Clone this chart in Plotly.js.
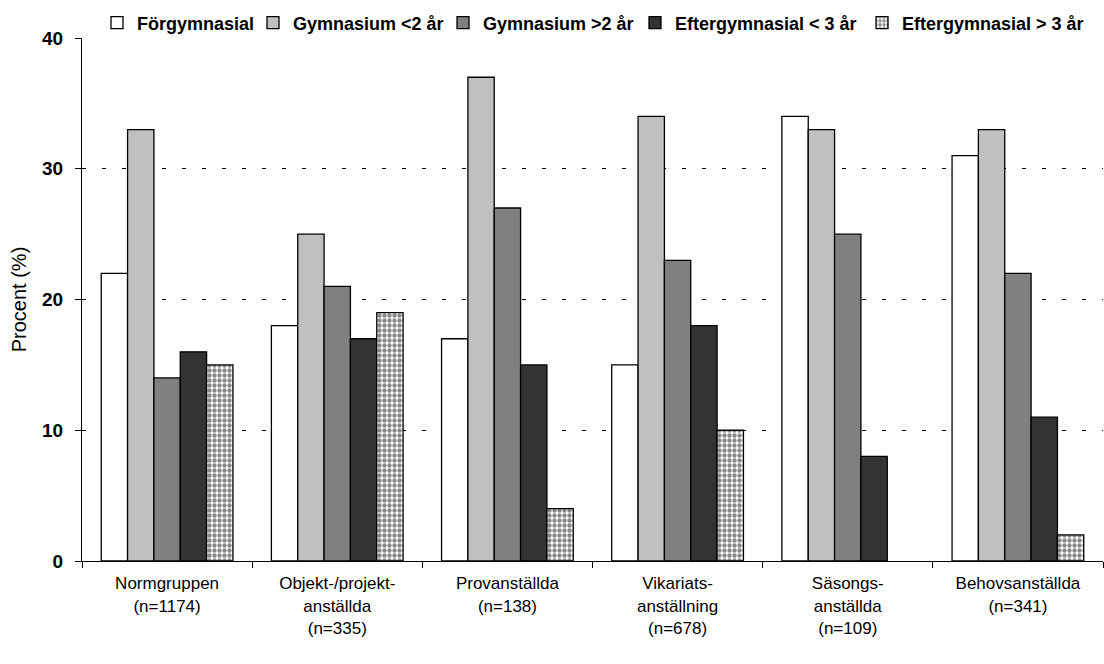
<!DOCTYPE html>
<html>
<head>
<meta charset="utf-8">
<script src="https://cdn.plot.ly/plotly-3.0.1.min.js"></script>
<style>html,body{margin:0;padding:0;background:#fff;}#chart{width:1104px;height:664px;}</style>
</head>
<body>
<div id="chart"></div>
<script>
const categories = [
  "Normgruppen<br>(n=1174)",
  "Objekt-/projekt-<br>anställda<br>(n=335)",
  "Provanställda<br>(n=138)",
  "Vikariats-<br>anställning<br>(n=678)",
  "Säsongs-<br>anställda<br>(n=109)",
  "Behovsanställda<br>(n=341)"
];
const seriesNames = ["Förgymnasial", "Gymnasium <2 år", "Gymnasium >2 år", "Eftergymnasial < 3 år", "Eftergymnasial > 3 år"];
const forgymnasial = [22, 18, 17, 15, 34, 31];
const gymnasiumUnder2 = [33, 25, 37, 34, 33, 33];
const gymnasiumOver2 = [14, 21, 27, 23, 25, 22];
const eftergymUnder3 = [16, 17, 15, 18, 8, 11];
const eftergymOver3 = [15, 19, 4, 10, null, 2];
const yTicks = [0, 10, 20, 30, 40];

const seriesValues = [forgymnasial, gymnasiumUnder2, gymnasiumOver2, eftergymUnder3, eftergymOver3];
const colors = ["#ffffff", "#c0c0c0", "#808080", "#333333", "#ffffff"];

// legend text start positions (pixels) -> each series has its own legend box
const legendTextX = [137, 293, 483, 675, 902];
const plotLeft = 82, plotRight = 1103, plotTop = 38, plotBottom = 561;
const plotW = plotRight - plotLeft, plotH = plotBottom - plotTop;

const traces = seriesValues.map((vals, i) => {
  const t = {
    type: "bar",
    name: seriesNames[i],
    x: categories,
    y: vals,
    legend: i === 0 ? "legend" : "legend" + (i + 1),
    marker: {
      color: colors[i],
      line: {color: "#000000", width: 1.3}
    },
    hoverinfo: "y+name"
  };
  if (i === 4) {
    t.marker.pattern = {shape: ".", fgcolor: "#111111", bgcolor: "#ffffff", size: 5, solidity: 0.6, fillmode: "overlay"};
  }
  return t;
});

const layout = {
  width: 1104,
  height: 664,
  margin: {l: plotLeft, r: 1104 - plotRight, t: plotTop, b: 664 - plotBottom},
  paper_bgcolor: "#ffffff",
  plot_bgcolor: "#ffffff",
  barmode: "group",
  bargap: 0.226,
  bargroupgap: 0,
  font: {family: "Liberation Sans, Arial, sans-serif", color: "#000000"},
  showlegend: true,
  xaxis: {
    type: "category",
    showgrid: false,
    showline: true,
    linecolor: "#000000",
    linewidth: 1,
    ticks: "outside",
    tickson: "boundaries",
    ticklen: 6,
    tickcolor: "#000000",
    tickfont: {size: 17},
    ticklabelstandoff: 7,
    fixedrange: true
  },
  yaxis: {
    range: [0, 40],
    tickvals: yTicks,
    ticktext: yTicks.map(String),
    showgrid: true,
    gridcolor: "#000000",
    gridwidth: 1,
    griddash: "4px,16px",
    showline: true,
    linecolor: "#000000",
    linewidth: 1,
    ticks: "outside",
    ticklen: 6,
    tickcolor: "#000000",
    tickfont: {size: 19, weight: "bold"},
    ticklabelstandoff: 8,
    zeroline: false,
    title: {text: "Procent (%)", font: {size: 20}, standoff: 10},
    fixedrange: true
  }
};

legendTextX.forEach((px, i) => {
  const key = i === 0 ? "legend" : "legend" + (i + 1);
  layout[key] = {
    orientation: "h",
    x: (px - 40 - plotLeft) / plotW, xanchor: "left",
    y: (plotBottom - 23) / plotH, yanchor: "middle",
    font: {size: 18, family: "Liberation Sans, Arial, sans-serif", weight: "bold"},
    itemwidth: 30,
    bgcolor: "rgba(0,0,0,0)",
    borderwidth: 0
  };
});

Plotly.newPlot("chart", traces, layout, {displayModeBar: false, staticPlot: true});
</script>
</body>
</html>
